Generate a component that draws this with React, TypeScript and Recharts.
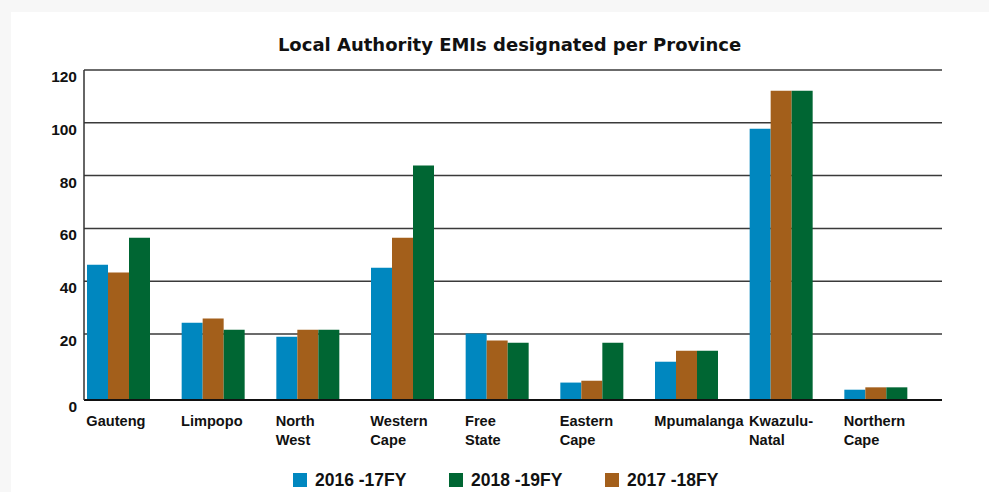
import React from "react";
import { BarChart, Bar, XAxis, YAxis, CartesianGrid } from "recharts";

const categories = [
  "Gauteng",
  "Limpopo",
  "North West",
  "Western Cape",
  "Free State",
  "Eastern Cape",
  "Mpumalanga",
  "Kwazulu-Natal",
  "Northern Cape",
];
const categoryLines = [
  ["Gauteng"],
  ["Limpopo"],
  ["North", "West"],
  ["Western", "Cape"],
  ["Free", "State"],
  ["Eastern", "Cape"],
  ["Mpumalanga"],
  ["Kwazulu-", "Natal"],
  ["Northern", "Cape"],
];
const fy2016 = [46.2, 24.3, 19.0, 45.1, 20.2, 1.6, 9.5, 97.7, -1.1];
const fy2017 = [43.3, 25.9, 21.6, 56.5, 17.5, 2.3, 13.7, 112.1, -0.2];
const fy2018 = [56.5, 21.6, 21.6, 83.8, 16.7, 16.7, 13.7, 112.1, -0.2];

const AXIS_FLOOR = -5;
const yTicks = [AXIS_FLOOR, 20, 40, 60, 80, 100, 120];
const title = "Local Authority EMIs designated per Province";

const series = [
  { key: "fy2016", name: "2016 -17FY", color: "#0087BF" },
  { key: "fy2017", name: "2017 -18FY", color: "#A35F1B" },
  { key: "fy2018", name: "2018 -19FY", color: "#006633" },
];
const legendOrder = ["fy2016", "fy2018", "fy2017"];

const data = categories.map((c, i) => ({
  name: c,
  fy2016: fy2016[i],
  fy2017: fy2017[i],
  fy2018: fy2018[i],
}));

const XTick = (props: any) => {
  const { x, y, index } = props;
  const lines = categoryLines[index] || [];
  return (
    <text
      x={x - 32}
      y={y + 26}
      textAnchor="start"
      fontFamily="Liberation Sans"
      fontWeight="bold"
      fontSize={14.6}
      fill="#111"
    >
      {lines.map((l, k) => (
        <tspan key={k} x={x - 32} dy={k === 0 ? 0 : 19}>
          {l}
        </tspan>
      ))}
    </text>
  );
};

const YTick = (props: any) => {
  const { x, y, payload } = props;
  const v = payload.value < 0 ? "0" : String(payload.value);
  return (
    <text
      x={x - 7}
      y={y + 12}
      textAnchor="end"
      fontFamily="Liberation Sans"
      fontWeight="bold"
      fontSize={15.5}
      fill="#111"
    >
      {v}
    </text>
  );
};

export default function App() {
  return (
    <div
      style={{
        position: "absolute",
        left: 0,
        top: 0,
        width: 989,
        height: 492,
        background: "#f7f7f7",
        overflow: "hidden",
      }}
    >
      <div
        style={{
          position: "absolute",
          left: 11,
          top: 12,
          width: 978,
          height: 480,
          background: "#ffffff",
        }}
      />
      <svg
        width={989}
        height={70}
        style={{ position: "absolute", left: 0, top: 0 }}
      >
        <text
          x={509.5}
          y={51}
          textAnchor="middle"
          fontFamily="DejaVu Sans"
          fontWeight="bold"
          fontSize={18}
          fill="#111"
        >
          {title}
        </text>
      </svg>
      <div style={{ position: "absolute", left: 0, top: 0 }}>
        <BarChart
          width={989}
          height={492}
          data={data}
          margin={{ top: 70, right: 47, bottom: 0, left: 0 }}
          barGap={0}
          barSize={21}
        >
          <CartesianGrid
            vertical={false}
            stroke="#3a3a3a"
            strokeWidth={1.5}
          />
          <XAxis
            dataKey="name"
            height={92}
            tickLine={false}
            tickSize={0}
            tickMargin={0}
            interval={0}
            padding={{ left: -13, right: 19 }}
            axisLine={{ stroke: "#111", strokeWidth: 2 }}
            tick={<XTick />}
          />
          <YAxis
            width={84}
            domain={[AXIS_FLOOR, 120]}
            ticks={yTicks}
            interval={0}
            tickLine={false}
            tickSize={0}
            tickMargin={0}
            axisLine={{ stroke: "#333", strokeWidth: 1.5 }}
            tick={<YTick />}
          />
          {series.map((s) => (
            <Bar
              key={s.key}
              dataKey={(d: any) => [AXIS_FLOOR, d[s.key]]}
              name={s.name}
              fill={s.color}
              isAnimationActive={false}
            />
          ))}
        </BarChart>
      </div>
      <div
        style={{
          position: "absolute",
          left: 293,
          top: 470,
          display: "flex",
          alignItems: "center",
          fontFamily: "Liberation Sans",
          fontWeight: "bold",
          fontSize: 17.5,
          color: "#111",
        }}
      >
        {legendOrder.map((k) => {
          const s = series.find((x) => x.key === k)!;
          return (
            <div
              key={k}
              style={{ width: 156, display: "flex", alignItems: "center" }}
            >
              <span
                style={{
                  display: "inline-block",
                  width: 14,
                  height: 14,
                  background: s.color,
                  marginRight: 8,
                }}
              />
              <span style={{ lineHeight: "20px" }}>{s.name}</span>
            </div>
          );
        })}
      </div>
    </div>
  );
}
